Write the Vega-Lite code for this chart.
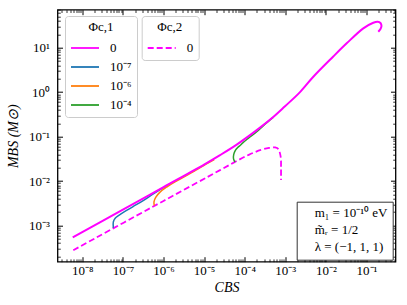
{
  "$schema": "https://vega.github.io/schema/vega-lite/v6.json",
  "autosize": {"type": "none"},
  "width": 338,
  "height": 252,
  "padding": {"left": 57.5, "top": 9.7, "right": 11.5, "bottom": 43.3},
  "background": "white",
  "datasets": {
    "solid": [
      {"phi1": "0", "i": 1, "C": 5.81e-9, "M": 5.37e-4},
      {"phi1": "0", "i": 2, "C": 1.0e-7, "M": 2.28e-3},
      {"phi1": "0", "i": 3, "C": 1.0e-6, "M": 7.31e-3},
      {"phi1": "0", "i": 4, "C": 1.0e-5, "M": 2.35e-2},
      {"phi1": "0", "i": 5, "C": 2.47e-5, "M": 3.83e-2},
      {"phi1": "0", "i": 6, "C": 6.35e-5, "M": 6.61e-2},
      {"phi1": "0", "i": 7, "C": 1.98e-4, "M": 0.140},
      {"phi1": "0", "i": 8, "C": 4.47e-4, "M": 0.251},
      {"phi1": "0", "i": 9, "C": 9.84e-4, "M": 0.482},
      {"phi1": "0", "i": 10, "C": 2.24e-3, "M": 0.977},
      {"phi1": "0", "i": 11, "C": 4.90e-3, "M": 2.22},
      {"phi1": "0", "i": 12, "C": 1.50e-2, "M": 6.27},
      {"phi1": "0", "i": 13, "C": 3.25e-2, "M": 12.56},
      {"phi1": "0", "i": 14, "C": 8.34e-2, "M": 27.35},
      {"phi1": "0", "i": 15, "C": 0.147, "M": 36.6},
      {"phi1": "0", "i": 16, "C": 0.189, "M": 38.5},
      {"phi1": "0", "i": 17, "C": 0.221, "M": 36.0},
      {"phi1": "0", "i": 18, "C": 0.234, "M": 30.8},
      {"phi1": "0", "i": 19, "C": 0.221, "M": 26.4},
      {"phi1": "0", "i": 20, "C": 0.195, "M": 22.9}
    ],
    "dashed": [
      {"phi2": "0", "i": 1, "C": 6.0e-9, "M": 2.78e-4},
      {"phi2": "0", "i": 2, "C": 1.0e-6, "M": 3.57e-3},
      {"phi2": "0", "i": 3, "C": 2.47e-5, "M": 1.76e-2},
      {"phi2": "0", "i": 4, "C": 5.77e-5, "M": 2.70e-2},
      {"phi2": "0", "i": 5, "C": 1.26e-4, "M": 3.89e-2},
      {"phi2": "0", "i": 6, "C": 2.51e-4, "M": 5.01e-2},
      {"phi2": "0", "i": 7, "C": 3.98e-4, "M": 5.56e-2},
      {"phi2": "0", "i": 8, "C": 5.62e-4, "M": 5.69e-2},
      {"phi2": "0", "i": 9, "C": 6.76e-4, "M": 5.25e-2},
      {"phi2": "0", "i": 10, "C": 7.50e-4, "M": 3.98e-2},
      {"phi2": "0", "i": 11, "C": 7.80e-4, "M": 3.16e-2},
      {"phi2": "0", "i": 12, "C": 7.85e-4, "M": 2.00e-2},
      {"phi2": "0", "i": 13, "C": 7.85e-4, "M": 1.05e-2}
    ],
    "colored": [
      {"phi1": "10⁻⁷", "i": 1, "C": 5.81e-8, "M": 8.81e-4},
      {"phi1": "10⁻⁷", "i": 2, "C": 5.81e-8, "M": 1.20e-3},
      {"phi1": "10⁻⁷", "i": 3, "C": 6.46e-8, "M": 1.45e-3},
      {"phi1": "10⁻⁷", "i": 4, "C": 7.94e-8, "M": 1.68e-3},
      {"phi1": "10⁻⁷", "i": 5, "C": 1.12e-7, "M": 2.07e-3},
      {"phi1": "10⁻⁷", "i": 6, "C": 1.78e-7, "M": 2.66e-3},
      {"phi1": "10⁻⁷", "i": 7, "C": 3.16e-7, "M": 3.63e-3},
      {"phi1": "10⁻⁷", "i": 8, "C": 5.62e-7, "M": 5.13e-3},
      {"phi1": "10⁻⁷", "i": 9, "C": 1.0e-6, "M": 7.08e-3},
      {"phi1": "10⁻⁷", "i": 10, "C": 2.0e-6, "M": 1.02e-2},
      {"phi1": "10⁻⁶", "i": 1, "C": 5.93e-7, "M": 2.79e-3},
      {"phi1": "10⁻⁶", "i": 2, "C": 5.83e-7, "M": 3.40e-3},
      {"phi1": "10⁻⁶", "i": 3, "C": 6.43e-7, "M": 4.28e-3},
      {"phi1": "10⁻⁶", "i": 4, "C": 8.20e-7, "M": 5.62e-3},
      {"phi1": "10⁻⁶", "i": 5, "C": 1.20e-6, "M": 7.33e-3},
      {"phi1": "10⁻⁶", "i": 6, "C": 1.92e-6, "M": 9.55e-3},
      {"phi1": "10⁻⁶", "i": 7, "C": 3.39e-6, "M": 1.27e-2},
      {"phi1": "10⁻⁶", "i": 8, "C": 5.62e-6, "M": 1.66e-2},
      {"phi1": "10⁻⁶", "i": 9, "C": 1.0e-5, "M": 2.26e-2},
      {"phi1": "10⁻⁶", "i": 10, "C": 1.78e-5, "M": 3.02e-2}
    ],
    "green": [
      {"phi1": "10⁻⁴", "i": 1, "C": 5.77e-5, "M": 2.66e-2},
      {"phi1": "10⁻⁴", "i": 2, "C": 5.31e-5, "M": 3.16e-2},
      {"phi1": "10⁻⁴", "i": 3, "C": 5.37e-5, "M": 3.98e-2},
      {"phi1": "10⁻⁴", "i": 4, "C": 5.89e-5, "M": 4.90e-2},
      {"phi1": "10⁻⁴", "i": 5, "C": 6.73e-5, "M": 5.69e-2},
      {"phi1": "10⁻⁴", "i": 6, "C": 7.94e-5, "M": 6.46e-2},
      {"phi1": "10⁻⁴", "i": 7, "C": 9.25e-5, "M": 7.41e-2},
      {"phi1": "10⁻⁴", "i": 8, "C": 1.26e-4, "M": 9.33e-2},
      {"phi1": "10⁻⁴", "i": 9, "C": 1.98e-4, "M": 0.129},
      {"phi1": "10⁻⁴", "i": 10, "C": 3.16e-4, "M": 0.191},
      {"phi1": "10⁻⁴", "i": 11, "C": 5.01e-4, "M": 0.272}
    ],
    "notes": [
      {"note": "m₁ = 10⁻¹⁰ eV"},
      {"note": "m̃ᵣ = 1/2"},
      {"note": "λ = (−1, 1, 1)"}
    ]
  },
  "resolve": {"axis": {"x": "independent", "y": "independent"}},
  "layer": [
    {
      "data": {"name": "dashed"},
      "mark": {"type": "line", "color": "#ff00ff", "strokeWidth": 1.8, "interpolate": "catmull-rom", "clip": true},
      "encoding": {
        "x": {"field": "C", "type": "quantitative",
          "scale": {"type": "log", "domain": [2.45e-9, 0.518], "nice": false, "zero": false},
          "axis": {"orient": "bottom", "values": [1e-8, 1e-7, 1e-6, 1e-5, 1e-4, 1e-3, 1e-2, 1e-1],
            "labelExpr": "'10' + (datum.value < 1 ? '⁻' : '') + ['⁰','¹','²','³','⁴','⁵','⁶','⁷','⁸','⁹'][abs(round(log(datum.value)/LN10))]",
            "tickSize": -5, "tickWidth": 1, "labelPadding": 8, "labelFlush": false, "labelOverlap": false,
            "title": "CBS", "titleFontStyle": "italic", "titleFontSize": 14, "titlePadding": 3}},
        "y": {"field": "M", "type": "quantitative",
          "scale": {"type": "log", "domain": [1.53e-4, 71.8], "nice": false, "zero": false},
          "axis": {"orient": "left", "values": [1e-3, 1e-2, 1e-1, 1, 10],
            "labelExpr": "'10' + (datum.value < 1 ? '⁻' : '') + ['⁰','¹','²','³','⁴','⁵','⁶','⁷','⁸','⁹'][abs(round(log(datum.value)/LN10))]",
            "tickSize": -5, "tickWidth": 1, "labelPadding": 13, "labelFlush": false, "labelOverlap": false,
            "title": "MBS (M⊙)", "titleFontStyle": "italic", "titleFontSize": 14, "titlePadding": 8}},
        "order": {"field": "i", "type": "quantitative"},
        "strokeDash": {"field": "phi2", "type": "nominal",
          "scale": {"domain": ["0"], "range": [[6, 3]]},
          "legend": {"title": "Φc,2", "orient": "none", "legendX": 84.2, "legendY": 6.3,
            "symbolType": "M-2,0H2", "symbolSize": 196, "symbolStrokeWidth": 1.8, "symbolStrokeColor": "#ff00ff",
            "symbolOffset": 7, "labelOffset": 17, "titleAnchor": "middle", "padding": 5, "titlePadding": 6}}
      }
    },
    {
      "data": {"name": "colored"},
      "mark": {"type": "line", "strokeWidth": 1.5, "interpolate": "catmull-rom", "clip": true},
      "encoding": {
        "x": {"field": "C", "type": "quantitative",
          "scale": {"type": "log", "domain": [2.45e-9, 0.518], "nice": false, "zero": false},
          "axis": {"orient": "bottom", "values": [3e-9,4e-9,5e-9,6e-9,7e-9,8e-9,9e-9,2e-8,3e-8,4e-8,5e-8,6e-8,7e-8,8e-8,9e-8,2e-7,3e-7,4e-7,5e-7,6e-7,7e-7,8e-7,9e-7,2e-6,3e-6,4e-6,5e-6,6e-6,7e-6,8e-6,9e-6,2e-5,3e-5,4e-5,5e-5,6e-5,7e-5,8e-5,9e-5,2e-4,3e-4,4e-4,5e-4,6e-4,7e-4,8e-4,9e-4,2e-3,3e-3,4e-3,5e-3,6e-3,7e-3,8e-3,9e-3,2e-2,3e-2,4e-2,5e-2,6e-2,7e-2,8e-2,9e-2,0.2,0.3,0.4,0.5],
            "labels": false, "tickSize": -2.8, "tickWidth": 0.8, "title": null}},
        "y": {"field": "M", "type": "quantitative",
          "scale": {"type": "log", "domain": [1.53e-4, 71.8], "nice": false, "zero": false},
          "axis": {"orient": "left", "values": [2e-4,3e-4,4e-4,5e-4,6e-4,7e-4,8e-4,9e-4,2e-3,3e-3,4e-3,5e-3,6e-3,7e-3,8e-3,9e-3,2e-2,3e-2,4e-2,5e-2,6e-2,7e-2,8e-2,9e-2,0.2,0.3,0.4,0.5,0.6,0.7,0.8,0.9,2,3,4,5,6,7,8,9,20,30,40,50,60,70],
            "labels": false, "tickSize": -2.8, "tickWidth": 0.8, "title": null}},
        "order": {"field": "i", "type": "quantitative"},
        "color": {"field": "phi1", "type": "nominal",
          "scale": {"domain": ["0", "10⁻⁷", "10⁻⁶", "10⁻⁴"], "range": ["#ff00ff", "#1f77b4", "#ff7f0e", "#2ca02c"]}}
      }
    },
    {
      "data": {"name": "green"},
      "mark": {"type": "line", "strokeWidth": 1.5, "interpolate": "catmull-rom", "clip": true},
      "encoding": {
        "x": {"field": "C", "type": "quantitative",
          "scale": {"type": "log", "domain": [2.45e-9, 0.518], "nice": false, "zero": false},
          "axis": {"orient": "top", "values": [1e-8, 1e-7, 1e-6, 1e-5, 1e-4, 1e-3, 1e-2, 1e-1],
            "labels": false, "tickSize": -5, "tickWidth": 1, "title": null}},
        "y": {"field": "M", "type": "quantitative",
          "scale": {"type": "log", "domain": [1.53e-4, 71.8], "nice": false, "zero": false},
          "axis": {"orient": "right", "values": [1e-3, 1e-2, 1e-1, 1, 10],
            "labels": false, "tickSize": -5, "tickWidth": 1, "title": null}},
        "order": {"field": "i", "type": "quantitative"},
        "color": {"field": "phi1", "type": "nominal",
          "scale": {"domain": ["0", "10⁻⁷", "10⁻⁶", "10⁻⁴"], "range": ["#ff00ff", "#1f77b4", "#ff7f0e", "#2ca02c"]}}
      }
    },
    {
      "data": {"name": "solid"},
      "mark": {"type": "line", "strokeWidth": 2, "interpolate": "catmull-rom", "clip": true},
      "encoding": {
        "x": {"field": "C", "type": "quantitative",
          "scale": {"type": "log", "domain": [2.45e-9, 0.518], "nice": false, "zero": false},
          "axis": {"orient": "top", "values": [3e-9,4e-9,5e-9,6e-9,7e-9,8e-9,9e-9,2e-8,3e-8,4e-8,5e-8,6e-8,7e-8,8e-8,9e-8,2e-7,3e-7,4e-7,5e-7,6e-7,7e-7,8e-7,9e-7,2e-6,3e-6,4e-6,5e-6,6e-6,7e-6,8e-6,9e-6,2e-5,3e-5,4e-5,5e-5,6e-5,7e-5,8e-5,9e-5,2e-4,3e-4,4e-4,5e-4,6e-4,7e-4,8e-4,9e-4,2e-3,3e-3,4e-3,5e-3,6e-3,7e-3,8e-3,9e-3,2e-2,3e-2,4e-2,5e-2,6e-2,7e-2,8e-2,9e-2,0.2,0.3,0.4,0.5],
            "labels": false, "tickSize": -2.8, "tickWidth": 0.8, "title": null}},
        "y": {"field": "M", "type": "quantitative",
          "scale": {"type": "log", "domain": [1.53e-4, 71.8], "nice": false, "zero": false},
          "axis": {"orient": "right", "values": [2e-4,3e-4,4e-4,5e-4,6e-4,7e-4,8e-4,9e-4,2e-3,3e-3,4e-3,5e-3,6e-3,7e-3,8e-3,9e-3,2e-2,3e-2,4e-2,5e-2,6e-2,7e-2,8e-2,9e-2,0.2,0.3,0.4,0.5,0.6,0.7,0.8,0.9,2,3,4,5,6,7,8,9,20,30,40,50,60,70],
            "labels": false, "tickSize": -2.8, "tickWidth": 0.8, "title": null}},
        "order": {"field": "i", "type": "quantitative"},
        "color": {"field": "phi1", "type": "nominal",
          "scale": {"domain": ["0", "10⁻⁷", "10⁻⁶", "10⁻⁴"], "range": ["#ff00ff", "#1f77b4", "#ff7f0e", "#2ca02c"]},
          "legend": {"title": "Φc,1", "orient": "none", "legendX": 7.5, "legendY": 6.3,
            "symbolType": "M-2,0H2", "symbolSize": 196, "symbolStrokeWidth": 1.8, "rowPadding": 4,
            "symbolOffset": 7, "labelOffset": 17, "titleAnchor": "middle", "padding": 5, "titlePadding": 6}}
      }
    },
    {
      "data": {"name": "notes"},
      "mark": {"type": "point", "opacity": 0},
      "encoding": {
        "shape": {"field": "note", "type": "nominal",
          "scale": {"domain": ["m₁ = 10⁻¹⁰ eV", "m̃ᵣ = 1/2", "λ = (−1, 1, 1)"]},
          "legend": {"title": null, "orient": "none", "legendX": 239.2, "legendY": 192,
            "symbolSize": 0, "symbolOpacity": 0, "labelOffset": 0, "rowPadding": 3,
            "padding": 5, "strokeColor": "#333333", "cornerRadius": 0, "fillColor": "white"}}
      }
    }
  ],
  "config": {
    "font": "Liberation Serif",
    "view": {"stroke": "black", "strokeWidth": 1.3},
    "axis": {"labelFont": "Liberation Serif", "labelFontSize": 13, "labelColor": "black",
      "tickColor": "black", "domain": false, "grid": false,
      "titleFont": "Liberation Serif", "titleColor": "black", "titleFontWeight": "normal"},
    "legend": {"labelFont": "Liberation Serif", "labelFontSize": 13, "labelColor": "black",
      "titleFont": "Liberation Serif", "titleFontSize": 13, "titleFontWeight": "normal", "titleColor": "black",
      "strokeColor": "#cccccc", "fillColor": "rgba(255,255,255,0.85)", "cornerRadius": 3}
  }
}
